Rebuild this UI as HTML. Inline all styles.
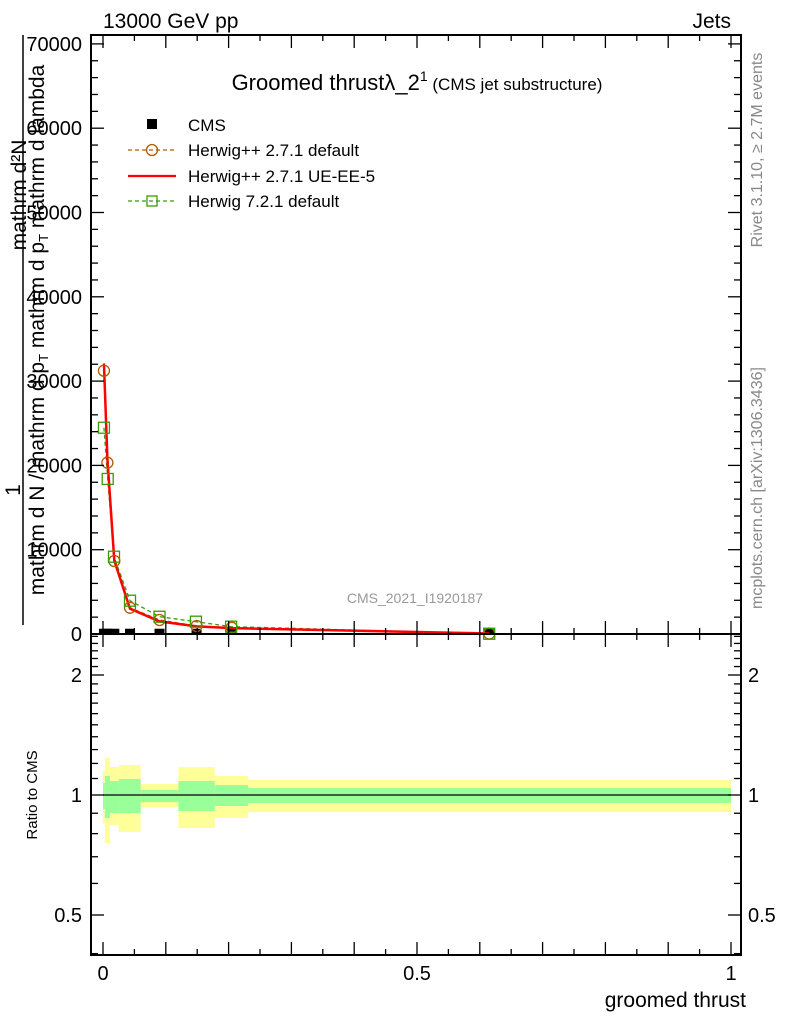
<!DOCTYPE html>
<html><head><meta charset="utf-8">
<style>
body{margin:0;background:#fff;}
svg{display:block;font-family:"Liberation Sans",sans-serif;}
</style></head>
<body>
<svg id="c" width="786" height="1024" viewBox="0 0 786 1024" xmlns="http://www.w3.org/2000/svg">
<g id="bands"></g>
<g id="marks"></g>
<g id="axes"></g>
<text x="103" y="28" font-size="21">13000 GeV pp</text>
<text x="731" y="28" font-size="21" text-anchor="end">Jets</text>
<text x="417" y="90" font-size="22" text-anchor="middle">Groomed thrustλ_2<tspan font-size="14" dy="-9">1</tspan><tspan font-size="17" dy="9"> (CMS jet substructure)</tspan></text>
<text x="415" y="603" font-size="14" fill="#999" text-anchor="middle">CMS_2021_I1920187</text>
<text transform="translate(762,150) rotate(-90)" font-size="16" fill="#888" text-anchor="middle">Rivet 3.1.10, ≥ 2.7M events</text>
<text transform="translate(762,488) rotate(-90)" font-size="16" fill="#888" text-anchor="middle">mcplots.cern.ch [arXiv:1306.3436]</text>
<text transform="translate(20,490) rotate(-90)" font-size="21" text-anchor="middle">1</text>
<line x1="23" y1="35" x2="23" y2="625" stroke="#000" stroke-width="1.5"/>
<text transform="translate(26,195) rotate(-90)" font-size="21" text-anchor="middle">mathrm d²N</text>
<text transform="translate(44,330) rotate(-90)" font-size="21" text-anchor="middle">mathrm d N / mathrm d p<tspan font-size="13" dy="4">T</tspan><tspan dy="-4"> mathrm d p</tspan><tspan font-size="13" dy="4">T</tspan><tspan dy="-4"> mathrm d lambda</tspan></text>
<text transform="translate(37,795) rotate(-90)" font-size="15" text-anchor="middle">Ratio to CMS</text>
<text x="746" y="1007" font-size="21" text-anchor="end">groomed thrust</text>
<g>
<rect x="147" y="119" width="10" height="10" fill="#000"/>
<text x="188" y="131" font-size="17">CMS</text>
<line x1="128" y1="150" x2="176" y2="150" stroke="#b05a00" stroke-width="1.2" stroke-dasharray="4,3"/>
<circle cx="152" cy="150" r="5.5" fill="none" stroke="#b05a00" stroke-width="1.3"/>
<text x="188" y="156" font-size="17">Herwig++ 2.7.1 default</text>
<line x1="128" y1="176" x2="176" y2="176" stroke="#f00" stroke-width="2.2"/>
<text x="188" y="182" font-size="17">Herwig++ 2.7.1 UE-EE-5</text>
<line x1="128" y1="201" x2="176" y2="201" stroke="#3a9a00" stroke-width="1.2" stroke-dasharray="4,3"/>
<rect x="147" y="196" width="10" height="10" fill="none" stroke="#3a9a00" stroke-width="1.3"/>
<text x="188" y="207" font-size="17">Herwig 7.2.1 default</text>
</g>
</svg>
<script>
const binEdges=[0,0.003,0.011,0.025,0.06,0.12,0.178,0.231,1.0];
const xMC=[0.0015,0.007,0.018,0.043,0.09,0.149,0.205,0.615];
const hppDefault=[31230,20320,8660,3120,1660,950,750,50];
const hppUE=[32100,20800,8700,3000,1500,900,700,60];
const h7Default=[24470,18390,9170,3950,2050,1460,870,30];
const xH7=[0.0015,0.0075,0.0175,0.043,0.09,0.148,0.204,0.615];
const cmsVals=[150,150,150,150,150,150,150,150];
const yellowHi=[1.149,1.238,1.175,1.189,1.066,1.175,1.116,1.091];
const yellowLo=[0.85,0.758,0.841,0.808,0.933,0.826,0.876,0.906];
const greenHi=[1.072,1.116,1.084,1.097,1.029,1.084,1.059,1.041];
const greenLo=[0.922,0.876,0.901,0.901,0.960,0.912,0.938,0.955];
const mainTicks=[0,10000,20000,30000,40000,50000,60000,70000];
const xTickLabels=[0,0.5,1];
const ratioTicks=[0.5,1,2];

const NS="http://www.w3.org/2000/svg";
const L=91,R=741,T=35,MB=634,RB=955;
const X=v=>103+v*628;
const Y=v=>634-v/10000*84.3;
const RY=v=>795-Math.log2(v)*120;
function mk(tag,attrs,parent){const e=document.createElementNS(NS,tag);for(const k in attrs)e.setAttribute(k,attrs[k]);document.getElementById(parent).appendChild(e);return e;}

for(let i=0;i<binEdges.length-1;i++){
  const y=mk('rect',{x:X(binEdges[i]),y:RY(yellowHi[i]),width:X(binEdges[i+1])-X(binEdges[i]),height:RY(yellowLo[i])-RY(yellowHi[i]),fill:'#ffff99'},'bands');
  
  
}
for(let i=0;i<binEdges.length-1;i++){
  const g=mk('rect',{x:X(binEdges[i]),y:RY(greenHi[i]),width:X(binEdges[i+1])-X(binEdges[i]),height:RY(greenLo[i])-RY(greenHi[i]),fill:'#99ff99'},'bands');
  
  
}
const rl=mk('line',{x1:X(0),x2:X(1),y1:RY(1),y2:RY(1),stroke:'#000','stroke-width':1.3},'bands');



for(let i=0;i<xMC.length;i++){
  const c=mk('rect',{x:X(xMC[i])-5,y:Y(cmsVals[i])-4,width:10,height:6,fill:'#000'},'marks');
  
  
}
function pts(xs,ys){return xs.map((x,i)=>X(x)+','+Y(ys[i])).join(' ');}
const l1=mk('polyline',{points:pts(xH7,h7Default),fill:'none',stroke:'#3a9a00','stroke-width':1.3,'stroke-dasharray':'4,3'},'marks');


const l2=mk('polyline',{points:pts(xMC,hppDefault),fill:'none',stroke:'#b05a00','stroke-width':1.3,'stroke-dasharray':'4,3'},'marks');


const l3=mk('polyline',{points:pts(xMC,hppUE),fill:'none',stroke:'#f00','stroke-width':2.5},'marks');


for(let i=0;i<xMC.length;i++){
  const c=mk('circle',{cx:X(xMC[i]),cy:Y(hppDefault[i]),r:5.5,fill:'none',stroke:'#b05a00','stroke-width':1.3},'marks');
  
  
  const s=mk('rect',{x:X(xH7[i])-5.5,y:Y(h7Default[i])-5.5,width:11,height:11,fill:'none',stroke:'#3a9a00','stroke-width':1.3},'marks');
  
  
}

const f1=mk('rect',{x:L,y:T,width:R-L,height:MB-T,fill:'none',stroke:'#000','stroke-width':2},'axes');


const f2=mk('rect',{x:L,y:MB,width:R-L,height:RB-MB,fill:'none',stroke:'#000','stroke-width':2},'axes');


for(let k=0;k<=20;k++){
  const v=k*0.05,x=X(v),len=(k%2==0)?13:6;
  for(const yb of [MB,RB]){
    mk('line',{x1:x,x2:x,y1:yb,y2:yb-len,stroke:'#000','stroke-width':1.3},'axes');
    mk('line',{x1:x,x2:x,y1:(yb==MB?T:MB),y2:(yb==MB?T:MB)+len,stroke:'#000','stroke-width':1.3},'axes');
  }
}
xTickLabels.forEach(v=>{
  const t=mk('text',{x:X(v),y:980,'font-size':20,'text-anchor':'middle'},'axes');
  t.textContent=String(v);
  
  
});
for(let v=0;v<=70000;v+=2000){
  const y=Y(v),len=(v%10000==0)?13:7;
  mk('line',{x1:L,x2:L+len,y1:y,y2:y,stroke:'#000','stroke-width':1.3},'axes');
  mk('line',{x1:R,x2:R-len,y1:y,y2:y,stroke:'#000','stroke-width':1.3},'axes');
}
mainTicks.forEach(v=>{
  const t=mk('text',{x:82,y:Y(v)+7,'font-size':20,'text-anchor':'end'},'axes');
  t.textContent=String(v);
  
  
});
const minors=[0.4,0.5,0.6,0.7,0.8,0.9,1,1.1,1.2,1.3,1.4,1.5,1.6,1.7,1.8,1.9,2,2.1,2.2,2.3,2.4,2.5];
minors.forEach(v=>{
  const y=RY(v);if(y<MB||y>RB)return;
  const len=ratioTicks.includes(v)?13:7;
  mk('line',{x1:L,x2:L+len,y1:y,y2:y,stroke:'#000','stroke-width':1.3},'axes');
  mk('line',{x1:R,x2:R-len,y1:y,y2:y,stroke:'#000','stroke-width':1.3},'axes');
});
ratioTicks.forEach(v=>{
  const t=mk('text',{x:82,y:RY(v)+7,'font-size':20,'text-anchor':'end'},'axes');
  t.textContent=String(v);
  
  
  const t2=mk('text',{x:748,y:RY(v)+7,'font-size':20},'axes');
  t2.textContent=String(v);
  
  
});
</script>
</body></html>
